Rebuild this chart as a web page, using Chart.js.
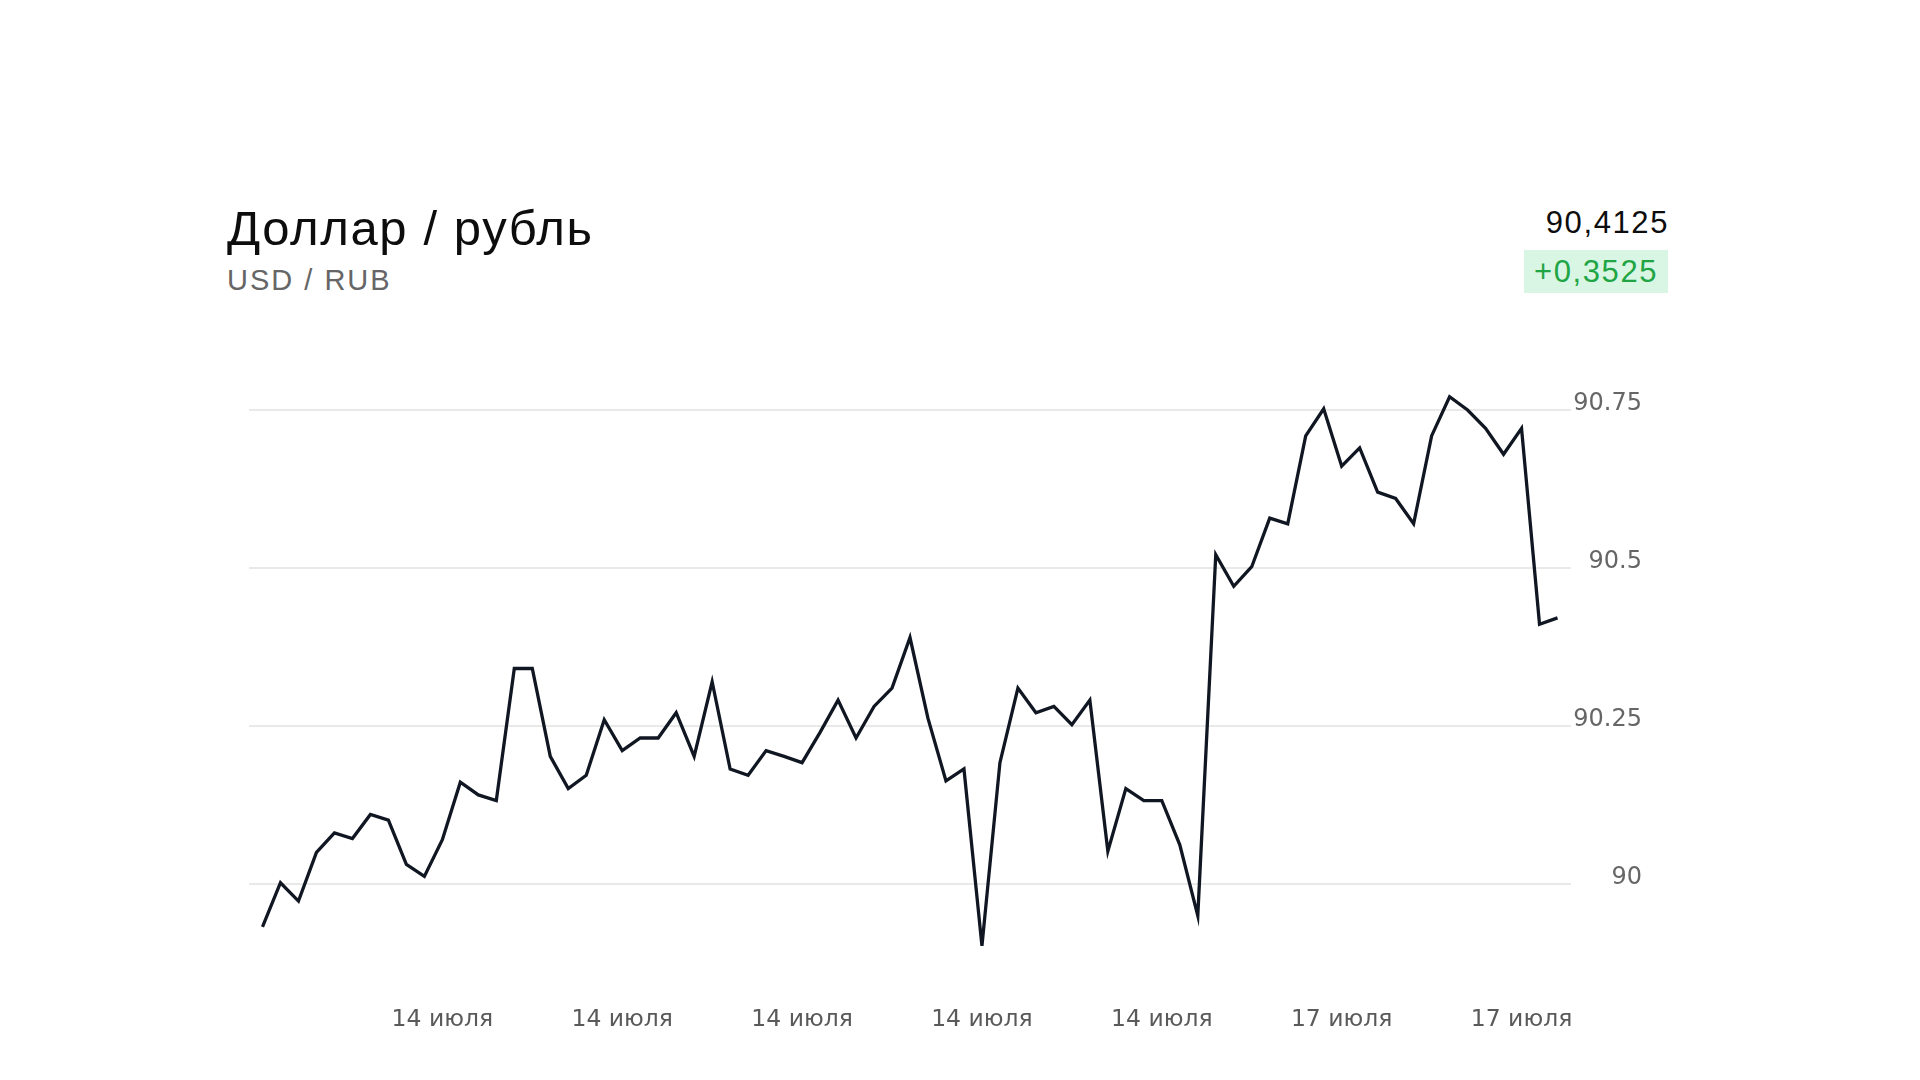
<!DOCTYPE html>
<html lang="ru">
<head>
<meta charset="utf-8">
<title>Доллар / рубль</title>
<script src="https://cdn.jsdelivr.net/npm/chart.js@4.4.0/dist/chart.umd.min.js"></script>
<style>
  html, body { margin: 0; padding: 0; background: #fff; }
  body { width: 1920px; height: 1080px; position: relative; overflow: hidden; font-family: "Liberation Sans", Arial, sans-serif; }
  .txt { position: absolute; line-height: 1; white-space: nowrap; }
  #title { left: 227px; top: 204px; font-size: 49px; letter-spacing: 1.6px; color: #0d0d0d; }
  #ticker { left: 227px; top: 266px; font-size: 29px; letter-spacing: 2px; color: #666; }
  #price { right: 251px; top: 207px; font-size: 31px; letter-spacing: 1.6px; color: #0d0d0d; }
  #change { left: 1524px; top: 250px; width: 144px; height: 43px; line-height: 44px; font-size: 31px; letter-spacing: 1.6px; text-align: center; color: #21a544; background: #d9f6e4; }
  #chartBox { position: absolute; left: 0; top: 0; width: 1920px; height: 1080px; }
</style>
</head>
<body>
<div id="title" class="txt">Доллар / рубль</div>
<div id="ticker" class="txt">USD / RUB</div>
<div id="price" class="txt">90,4125</div>
<div id="change" class="txt">+0,3525</div>
<div id="chartBox"><canvas id="rateChart" width="1920" height="1080"></canvas></div>
<script>
'use strict';
//data
var usdRub = [
  89.932, 90.002, 89.973, 90.050, 90.081, 90.072, 90.110, 90.101, 90.031, 90.012,
  90.070, 90.161, 90.141, 90.132, 90.341, 90.341, 90.202, 90.151, 90.172, 90.260,
  90.211, 90.231, 90.231, 90.271, 90.202, 90.320, 90.182, 90.172, 90.211, 90.202,
  90.192, 90.240, 90.291, 90.231, 90.281, 90.310, 90.390, 90.262, 90.163, 90.182,
  89.902, 90.192, 90.310, 90.271, 90.281, 90.252, 90.291, 90.052, 90.151, 90.132,
  90.132, 90.062, 89.950, 90.521, 90.471, 90.502, 90.579, 90.570, 90.709, 90.752,
  90.661, 90.690, 90.620, 90.610, 90.570, 90.709, 90.771, 90.750, 90.721, 90.680,
  90.721, 90.411, 90.421
];
var xTickPositions = [10, 20, 30, 40, 50, 60, 70];
var xTickLabels = ['14 июля', '14 июля', '14 июля', '14 июля', '14 июля', '17 июля', '17 июля'];
var yTickValues = [90, 90.25, 90.5, 90.75];
var yTickLabels = ['90', '90.25', '90.5', '90.75'];

//points for the line
var points = [];
for (var i = 0; i < usdRub.length; i++) {
  points.push({x: i, y: usdRub[i]});
}

var ctx = document.getElementById('rateChart');
var rateChart = new Chart(ctx, {
  type: 'line',
  data: {
    datasets: [{
      data: points,
      borderColor: '#111722',
      borderWidth: 3.3,
      pointRadius: 0,
      tension: 0,
      fill: false
    }]
  },
  options: {
    responsive: false,
    devicePixelRatio: 1,
    animation: false,
    layout: {
      padding: {left: 249, right: 278, top: 378.4, bottom: 0}
    },
    plugins: {
      legend: {display: false},
      tooltip: {enabled: false}
    },
    scales: {
      x: {
        type: 'linear',
        min: -0.75,
        max: 72.75,
        grid: {display: false},
        border: {display: false},
        afterBuildTicks: function(scale) {
          scale.ticks = xTickPositions.map(function(v) { return {value: v}; });
        },
        afterFit: function(scale) {
          scale.height = 101.2;
        },
        ticks: {
          autoSkip: false,
          maxRotation: 0,
          padding: 19,
          color: '#5a5a5a',
          font: {family: '"DejaVu Sans", Verdana, sans-serif', size: 23.5},
          callback: function(value, index) {
            return xTickLabels[index];
          }
        }
      },
      y: {
        type: 'linear',
        position: 'right',
        min: 89.85,
        max: 90.8,
        grid: {color: '#e9e9e9', lineWidth: 2, drawTicks: false},
        border: {display: false},
        afterBuildTicks: function(scale) {
          scale.ticks = yTickValues.map(function(v) { return {value: v}; });
        },
        afterFit: function(scale) {
          scale.width = 71;
        },
        ticks: {
          crossAlign: 'far',
          padding: 2,
          labelOffset: -6,
          color: '#666',
          font: {family: '"DejaVu Sans", Verdana, sans-serif', size: 24},
          callback: function(value, index) {
            return yTickLabels[index];
          }
        }
      }
    }
  }
});
</script>
</body>
</html>
